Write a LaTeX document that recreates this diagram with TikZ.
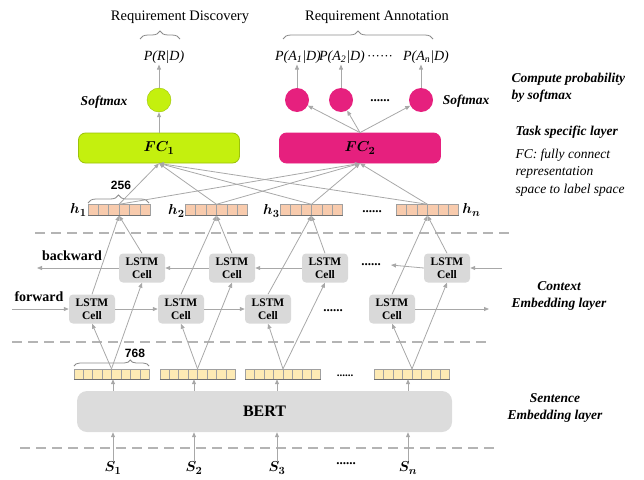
\documentclass[tikz,border=0pt]{standalone}
\usepackage{fontspec}
\setmainfont{Liberation Serif}
\newfontfamily\sansf{Liberation Sans}
\usepackage{bm}
\usetikzlibrary{arrows.meta,decorations.pathreplacing,calc,positioning}
\definecolor{fcgreen}{HTML}{C4F00E}
\definecolor{fcgreenb}{HTML}{9CC20A}
\definecolor{fcpink}{HTML}{E6207E}
\definecolor{fcpinkb}{HTML}{C21566}
\definecolor{lgray}{HTML}{A8A8A8}
\definecolor{dashc}{HTML}{B4B4B4}
\definecolor{cellgray}{HTML}{D9D9D9}
\definecolor{bertgray}{HTML}{DCDCDC}
\definecolor{peach}{HTML}{F8CBAD}
\definecolor{lyel}{HTML}{FDEAB4}
\definecolor{gridc}{HTML}{A0A0A0}
\definecolor{botc}{HTML}{707070}
\definecolor{bracec}{HTML}{8A8A8A}
\newcommand\vecgrid[3]{%
  \draw[gridl] (#1.south west) rectangle (#1.north east);
  \foreach \k in {1,...,#3}
    \draw[gridl] ($(#1.south west)!\k/#2!(#1.south east)$) -- ($(#1.north west)!\k/#2!(#1.north east)$);
  \draw[draw=botc, line width=0.9pt] (#1.south west) -- (#1.south east);
}
\begin{document}
\begin{tikzpicture}[x=1pt,y=-1pt,
  conn/.style={draw=lgray, line width=0.8pt},
  arr/.style={conn, -{Triangle[length=5pt,width=4pt]}},
  dline/.style={draw=dashc, line width=1.1pt, dash pattern=on 10pt off 6pt},
  lstm/.style={fill=cellgray, rounded corners=4pt, minimum width=46pt, minimum height=29pt, inner sep=0pt, align=center, font=\fontsize{11.5}{13}\selectfont\bfseries},
  hvec/.style={fill=peach, minimum width=62pt, minimum height=11pt, inner sep=0pt},
  evec/.style={fill=lyel, minimum width=75pt, minimum height=10pt, inner sep=0pt},
  gridl/.style={draw=gridc, line width=0.5pt},
  brc/.style={draw=bracec, line width=0.8pt, decorate, decoration={brace, amplitude=8pt}},
  fcbox/.style={rounded corners=7pt, minimum width=161pt, minimum height=30pt, line width=0.8pt, font=\fontsize{15}{15}\selectfont},
  smc/.style={circle, minimum size=24pt, inner sep=0pt},
  ptext/.style={font=\fontsize{14}{14}\selectfont\itshape, inner sep=1pt},
  dotsty/.style={font=\fontsize{13}{13}\selectfont\bfseries, inner sep=1pt},
  bi/.style={font=\fontsize{13.5}{17}\selectfont\bfseries\itshape, align=center},
  lbl/.style={font=\fontsize{14}{14}\selectfont, inner sep=1pt},
  hl/.style={font=\fontsize{15}{15}\selectfont, inner sep=0.5pt},
]
\useasboundingbox (0,0) rectangle (644,479);
% top titles
\node[font=\fontsize{14.5}{14.5}\selectfont] (rd) at (180,17) {Requirement Discovery};
\node[font=\fontsize{14.5}{14.5}\selectfont] (ra) at (377,17) {Requirement Annotation};
\draw[brc] (140,39) -- (180,39);
\draw[brc] (283,39) -- (433,39);
% probabilities
\node[ptext] (pr) at (164,57) {P(R|D)};
\node[ptext] (pa1) at (298,57) {P(A\textsubscript{1}|D)};
\node[ptext] (pa2) at (342,57) {P(A\textsubscript{2}|D)};
\node[font=\fontsize{13}{13}\selectfont, inner sep=0pt] (pdots) at (380,58) {······};
\node[ptext] (pan) at (426,57) {P(A\textsubscript{\textit{n}}|D)};
% softmax circles
\node[smc, fill=fcgreen, draw=fcgreenb] (g) at (159,100) {};
\node[smc, fill=fcpink] (p1) at (297,100) {};
\node[smc, fill=fcpink] (p2) at (341,100) {};
\node[dotsty] (cdots) at (380,101) {......};
\node[smc, fill=fcpink] (p3) at (421,100) {};
\node[bi] (smL) at (104,102) {Softmax};
\node[bi] (smR) at (466,101) {Softmax};
% FC boxes
\node[fcbox, fill=fcgreen, draw=fcgreenb] (fc1) at (159,148) {$\bm{FC_1}$};
\node[fcbox, fill=fcpink, draw=fcpink] (fc2) at (360,148) {$\bm{FC_2}$};
\draw[arr] (fc1.north) -- (g.south);
\draw[arr] (g.north) -- (g.north |- pr.south);
\draw[arr] (p1.north) -- (p1.north |- pa1.south);
\draw[arr] (p2.north) -- (p2.north |- pa2.south);
\draw[arr] (p3.north) -- (p3.north |- pan.south);
\draw[arr] (fc2.north) -- (p1);
\draw[arr] (fc2.north) -- (p2);
\draw[arr] (fc2.north) -- (p3);
% right side labels
\node[bi, align=left, anchor=west] (cp) at (508,88) {Compute probability\\by softmax};
\node[bi, anchor=west] (ts) at (512,132) {Task specific layer};
\node[font=\fontsize{13.5}{17.5}\selectfont\itshape, align=left, anchor=west] (fcd) at (512,172.5) {FC: fully connect\\representation\\space to label space};
\node[bi] (ctx) at (559,296) {Context\\Embedding layer};
\node[bi] (sen) at (555,408) {Sentence\\Embedding layer};
% h vectors
\node[hvec] (h1) at (119,210) {};
\node[hvec] (h2) at (216.5,210) {};
\node[hvec] (h3) at (311.5,210) {};
\node[hvec] (hn) at (427.5,210) {};
\vecgrid{h1}{6}{5}
\vecgrid{h2}{6}{5}
\vecgrid{h3}{6}{5}
\vecgrid{hn}{6}{5}
\node[hl, left=0.5pt of h1] (lh1) {$\bm{h_1}$};
\node[hl, left=0pt of h2, yshift=-1pt] (lh2) {$\bm{h_2}$};
\node[hl, left=0pt of h3, yshift=-1pt] (lh3) {$\bm{h_3}$};
\node[hl, right=3pt of hn] (lhn) {$\bm{h_n}$};
\node[dotsty] (hdots) at (372,212) {......};
\draw[brc] (88,203) -- (149,203);
\node[font=\sansf\fontsize{12}{12}\selectfont\bfseries] (n256) at (121,185) {256};
\foreach \h in {h1,h2,h3,hn}{
  \draw[arr] (\h.north) -- (fc1.south);
  \draw[arr] (\h.north) -- (fc2.south);
}
% dashed separators
\draw[dline] (35,233) -- (515,233);
\draw[dline] (12,342) -- (492,342);
\draw[dline] (20,448) -- (497,448);
% LSTM cells
\node[lstm] (b1) at (142,268) {LSTM\\Cell};
\node[lstm] (b2) at (232,268) {LSTM\\Cell};
\node[lstm] (b3) at (325,268) {LSTM\\Cell};
\node[lstm] (b4) at (447,268) {LSTM\\Cell};
\node[lstm] (f1) at (92,309) {LSTM\\Cell};
\node[lstm] (f2) at (181,309) {LSTM\\Cell};
\node[lstm] (f3) at (268,309) {LSTM\\Cell};
\node[lstm] (f4) at (392,309) {LSTM\\Cell};
\node[dotsty] (bdots) at (371,265) {......};
\node[dotsty] (fdots) at (333,311) {......};
\node[font=\fontsize{14}{14}\selectfont\bfseries] (bw) at (72,256) {backward};
\node[font=\fontsize{14}{14}\selectfont\bfseries] (fw) at (39,297) {forward};
\coordinate (bin) at (502,268);
\coordinate (bout) at (37,268);
\coordinate (fin) at (12,309);
\coordinate (fout) at (489,309);
\draw[arr] (bin) -- (b4.east);
\draw[arr] (b4.west) -- ([xshift=9pt]bdots.east);
\draw[arr] (b3.west) -- (b2.east);
\draw[arr] (b2.west) -- (b1.east);
\draw[arr] (b1.west) -- (bout);
\draw[arr] (fin) -- (f1.west);
\draw[arr] (f1.east) -- (f2.west);
\draw[arr] (f2.east) -- (f3.west);
\draw[arr] (f4.east) -- (fout);
% embedding vectors
\node[evec] (e1) at (111.5,374) {};
\node[evec] (e2) at (197.5,374) {};
\node[evec] (e3) at (283,374) {};
\node[evec] (en) at (412,374) {};
\vecgrid{e1}{8}{7}
\vecgrid{e2}{8}{7}
\vecgrid{e3}{8}{7}
\vecgrid{en}{8}{7}
\node[dotsty, font=\fontsize{11}{11}\selectfont\bfseries] (edots) at (345,376) {......};
\draw[brc, decoration={brace, amplitude=6pt, aspect=0.75}] (74,366) -- (149,366);
\node[font=\sansf\fontsize{12}{12}\selectfont\bfseries] (n768) at (135,353) {768};
% connections LSTM layer
\foreach \e/\f/\b/\h in {e1/f1/b1/h1, e2/f2/b2/h2, e3/f3/b3/h3, en/f4/b4/hn}{
  \draw[arr] (\e.north) -- (\f.south);
  \draw[arr] (\e.north) -- (\b.south);
  \draw[arr] (\f.north) -- (\h.south);
  \draw[arr] (\b.north) -- (\h.south);
}
% BERT
\node[fill=bertgray, rounded corners=10pt, minimum width=375pt, minimum height=41pt, font=\fontsize{16}{16}\selectfont\bfseries] (bert) at (264.5,411.5) {BERT};
\node[hl] (s1) at (113,468) {$\bm{S_1}$};
\node[hl] (s2) at (194,468) {$\bm{S_2}$};
\node[hl] (s3) at (277,468) {$\bm{S_3}$};
\node[hl] (sn) at (408,468) {$\bm{S_n}$};
\node[dotsty] (sdots) at (346,464) {......};
\foreach \s/\e in {s1/e1, s2/e2, s3/e3, sn/en}{
  \draw[arr] (\s.north) -- (\s.north |- bert.south);
  \draw[arr] (bert.north -| \s) -- (\e.south -| \s);
}
\end{tikzpicture}
\end{document}
